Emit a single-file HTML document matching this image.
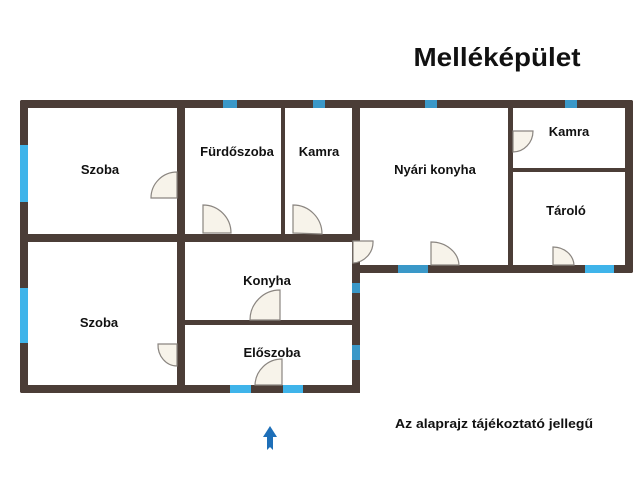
<!DOCTYPE html>
<html><head><meta charset="utf-8"><style>html,body{margin:0;padding:0;background:#fff;width:640px;height:480px;overflow:hidden}</style></head><body>
<svg width="640" height="480" viewBox="0 0 640 480" xmlns="http://www.w3.org/2000/svg" font-family="Liberation Sans, Arial, sans-serif" font-weight="bold">
<rect width="640" height="480" fill="#fff"/>
<g fill="#4b3d37">
<rect x="20" y="100" width="613" height="8" rx="2"/>
<rect x="20" y="100" width="8" height="293" rx="2"/>
<rect x="20" y="385" width="340" height="8" rx="2"/>
<rect x="352" y="100" width="8" height="293"/>
<rect x="625" y="100" width="8" height="173" rx="2"/>
<rect x="352" y="265" width="281" height="8" rx="2"/>
<rect x="177" y="100" width="8" height="293"/>
<rect x="281" y="100" width="4" height="140"/>
<rect x="20" y="234" width="340" height="8"/>
<rect x="177" y="320" width="183" height="5"/>
<rect x="508" y="100" width="5" height="173"/>
<rect x="508" y="168" width="125" height="4"/>
</g>
<g fill="#3fb4ea">
<rect x="20" y="145" width="8" height="57"/>
<rect x="20" y="288" width="8" height="55"/>
<rect x="223" y="100" width="14" height="8" fill="#3a98c8"/>
<rect x="313" y="100" width="12" height="8" fill="#3a98c8"/>
<rect x="425" y="100" width="12" height="8" fill="#3a98c8"/>
<rect x="565" y="100" width="12" height="8" fill="#3a98c8"/>
<rect x="230" y="385" width="21" height="8"/>
<rect x="283" y="385" width="20" height="8"/>
<rect x="352" y="283" width="8" height="10" fill="#3a98c8"/>
<rect x="352" y="345" width="8" height="15" fill="#3a98c8"/>
<rect x="398" y="265" width="30" height="8" fill="#3a98c8"/>
<rect x="585" y="265" width="29" height="8"/>
</g>
<g fill="#f7f3ea" stroke="#8a8580" stroke-width="1.2">
<path d="M177,198 L177,172 A26,26 0 0 0 151,198 Z"/>
<path d="M203,233 L203,205 A28,28 0 0 1 231,233 Z"/>
<path d="M293,233 L293,205 A29,29 0 0 1 322,234 Z"/>
<path d="M280,320 L280,290 A30,30 0 0 0 250,320 Z"/>
<path d="M177,344 L158,344 A19,21 0 0 0 177,366 Z"/>
<path d="M282,385 L282,359 A27,27 0 0 0 255,385 Z"/>
<path d="M353,241 L373,241 A21,21 0 0 1 353,263 Z"/>
<path d="M431,265 L431,242 A28,24 0 0 1 459,265 Z"/>
<path d="M513,131 L533,131 A20,21 0 0 1 513,152 Z"/>
<path d="M553,265 L553,247 A21,19 0 0 1 574,265 Z"/>
</g>
<g font-size="13" fill="#111" text-anchor="middle">
<text x="100" y="174">Szoba</text>
<text x="237" y="156">Fürdőszoba</text>
<text x="319" y="156">Kamra</text>
<text x="435" y="174">Nyári konyha</text>
<text x="569" y="136">Kamra</text>
<text x="566" y="215">Tároló</text>
<text x="267" y="285">Konyha</text>
<text x="99" y="327">Szoba</text>
<text x="272" y="357">Előszoba</text>
</g>
<text x="497" y="66" font-size="26" text-anchor="middle" fill="#111" textLength="167" lengthAdjust="spacingAndGlyphs">Melléképület</text>
<text x="494" y="428" font-size="12.5" text-anchor="middle" fill="#111" textLength="198" lengthAdjust="spacingAndGlyphs">Az alaprajz tájékoztató jellegű</text>
<path d="M270,426 L277,437 L273,437 L273,450 L270,447 L267,450 L267,437 L263,437 Z" fill="#1e6fb8"/>
</svg>
</body></html>
